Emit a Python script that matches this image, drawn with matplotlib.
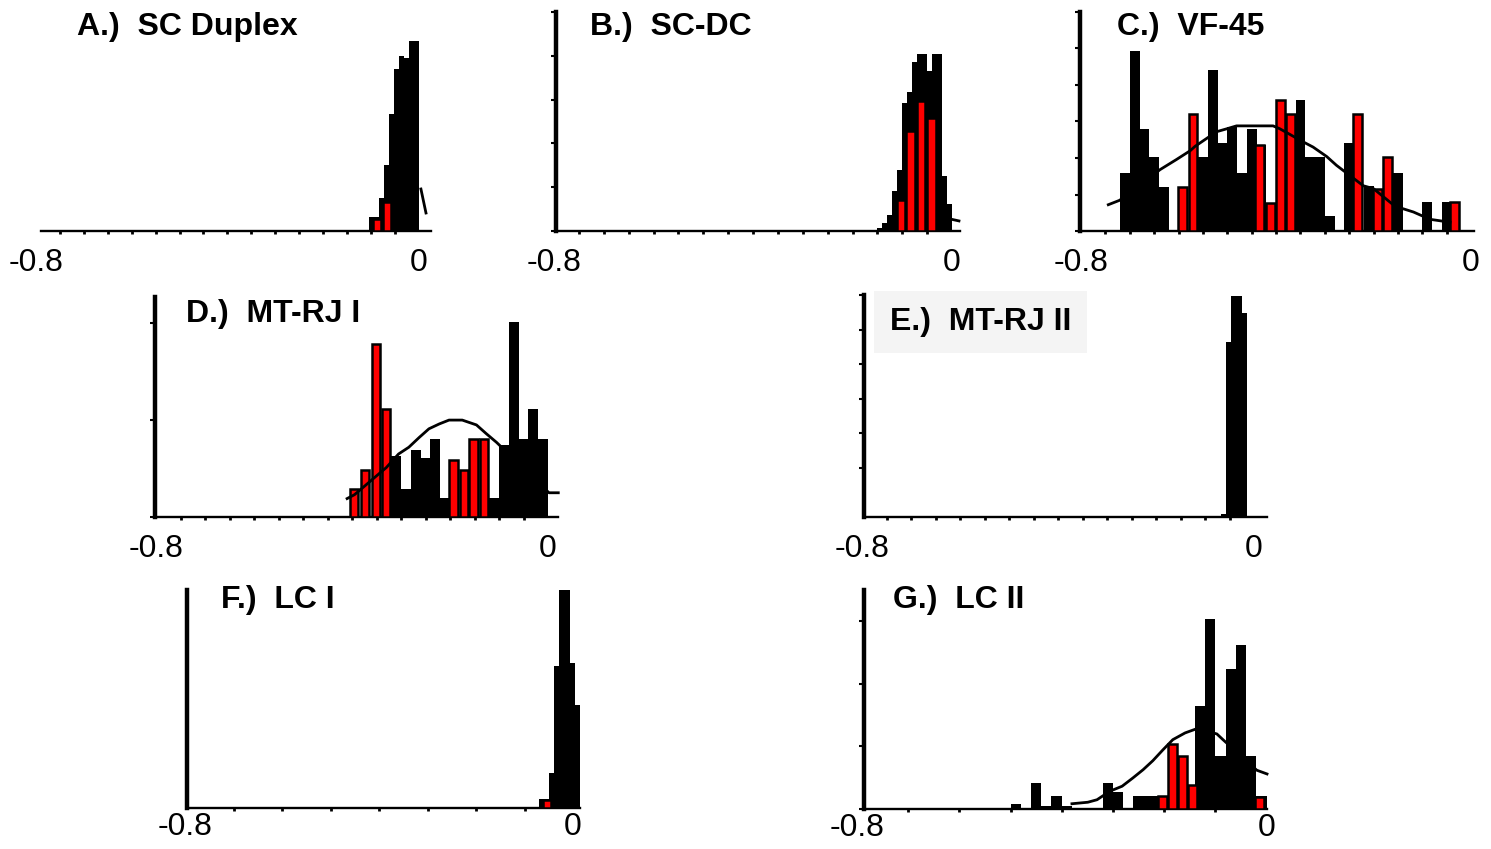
import matplotlib
matplotlib.use('Agg')
import matplotlib.pyplot as plt
import numpy as np

plt.rcParams['font.family'] = ['Liberation Sans', 'DejaVu Sans']

W, H = 1491, 849

# ---- data ----
# A.) SC Duplex
a_edge0, a_width = -0.105, 0.0105
a_black = [1.4, 1.4, 3.3, 6.6, 11.7, 16.2, 17.5, 17.3, 19.0, 19.0]
a_red_x = [-0.087, -0.066]
a_red = [1.2, 2.9]
a_curve_x = [0.004, 0.0146]
a_curve_y = [4.2, 1.8]

# B.) SC-DC
b_edge0, b_width = -0.15, 0.01
b_black = [0.7, 1.8, 3.7, 9.1, 13.9, 29.2, 31.7, 38.6, 40.4, 40.4, 36.5, 40.4, 40.4, 12.6, 6.2]
b_red_x = [-0.103, -0.083, -0.062, -0.041]
b_red = [7.1, 22.8, 29.7, 25.8]
b_curve_x = [0.002, 0.014]
b_curve_y = [2.6, 2.3]

# C.) VF-45
c_edge0, c_width = -0.8, 0.02
c_black = [0, 0, 0, 0, 4.0, 12.3, 7.0, 5.1, 3.0, 0,
           0, 0, 5.1, 11.0, 6.0, 7.1, 4.0, 7.0, 5.9, 0,
           0, 0, 9.0, 5.1, 5.1, 1.0, 0, 6.0, 0, 3.1,
           0, 0, 4.0, 0, 0, 2.0, 0, 2.0, 0, 0]
c_red_x = [-0.592, -0.570, -0.434, -0.411, -0.391, -0.370, -0.233, -0.192, -0.171, -0.034]
c_red = [3.0, 8.0, 5.9, 1.9, 9.0, 8.0, 8.0, 2.9, 5.1, 2.0]
c_curve_x = [-0.744, -0.721, -0.679, -0.638, -0.604, -0.576, -0.566, -0.522, -0.501,
             -0.481, -0.443, -0.406, -0.392, -0.344, -0.324, -0.296, -0.276, -0.221,
             -0.200, -0.156, -0.118, -0.084, -0.043]
c_curve_y = [1.8, 2.1, 3.1, 4.2, 4.9, 5.5, 5.8, 6.8, 7.0,
             7.2, 7.2, 7.2, 7.0, 6.1, 5.75, 5.1, 4.5, 3.1,
             2.9, 1.7, 1.3, 0.8, 0.6]

# D.) MT-RJ I
d_edge0, d_width = -0.42, 0.02
d_black = [0, 0, 0, 0, 0, 6.3, 2.9, 6.9, 6.1, 8.0, 2.0,
           0, 0, 0, 0, 2.0, 7.4, 20.1, 8.0, 11.1, 8.0]
d_red_x = [-0.396, -0.374, -0.351, -0.330, -0.193, -0.172, -0.152, -0.131]
d_red = [2.9, 4.8, 17.9, 11.1, 5.9, 4.8, 8.0, 8.0]
d_curve_x = [-0.41, -0.395, -0.374, -0.351, -0.330, -0.305, -0.284, -0.263, -0.243,
             -0.222, -0.202, -0.175, -0.146, -0.126, -0.105, 0.002, 0.021]
d_curve_y = [1.9, 2.3, 3.2, 4.2, 5.1, 6.5, 7.2, 8.2, 9.1,
             9.6, 10.0, 10.0, 9.5, 8.6, 7.7, 2.5, 2.5]

# E.) MT-RJ II
e_edge0, e_width = -0.067, 0.0105
e_black = [0.15, 10.1, 12.8, 12.8, 11.8]

# F.) LC I
f_edge0, f_width = -0.07, 0.0105
f_black = [0.9, 0.9, 3.5, 14.2, 21.9, 21.9, 14.5, 10.3]
f_red_x = [-0.054]
f_red = [0.8]

# G.) LC II
g_edge0, g_width = -0.50, 0.02
g_black = [0.42, 0, 2.1, 0.26, 1.06, 0.26, 0, 0, 0, 2.1, 1.33, 0, 1.06,
           1.06, 1.06, 0, 0, 0, 8.2, 15.2, 4.2, 11.2, 13.1, 4.2, 1.06]
g_red_x = [-0.203, -0.184, -0.164, -0.1445, -0.013]
g_red = [1.0, 5.2, 4.2, 1.9, 0.95]
g_curve_x = [-0.380, -0.349, -0.331, -0.306, -0.282, -0.261, -0.241, -0.222, -0.202,
             -0.183, -0.159, -0.136, -0.097, -0.085, -0.019, 0.001]
g_curve_y = [0.42, 0.54, 0.74, 1.42, 1.82, 2.48, 3.14, 3.86, 4.74,
             5.54, 6.08, 6.42, 6.0, 5.54, 3.1, 2.8]

fig = plt.figure(figsize=(W / 100, H / 100), dpi=100)


def draw_panel(layout, ytop, yticks, tick_step, edge0, width, black,
               red_x=None, red_h=None, curve_x=None, curve_y=None,
               show_left=True, pad=12):
    # layout in pixels: zero position, px per unit, baseline, top, axis left/right
    zero, ppu, base, top, xl, xr = layout
    lpx, rpx = xl - 60, xr + 30
    ax = fig.add_axes([lpx / W, 1 - base / H, (rpx - lpx) / W, (base - top) / H])
    ax.patch.set_visible(False)
    ax.set_xlim((lpx - zero) / ppu, (rpx - zero) / ppu)
    ax.set_ylim(0, ytop)

    centers = edge0 + width * (np.arange(len(black)) + 0.5)
    ax.bar(centers, black, width=width, color='black', linewidth=0, zorder=2)
    if red_x:
        ax.bar(red_x, red_h, width=0.017, color='#ff0000', edgecolor='black',
               linewidth=1.8, zorder=3)
    if curve_x:
        ax.plot(curve_x, curve_y, color='black', lw=2.0, zorder=4)

    for s in ['top', 'right']:
        ax.spines[s].set_visible(False)
    ax.spines['bottom'].set_bounds((xl - zero) / ppu, (xr - zero) / ppu)
    ax.spines['bottom'].set_linewidth(1.7)
    ax.spines['left'].set_position(('data', (xl - zero) / ppu))
    ax.spines['left'].set_bounds(0, ytop)
    ax.spines['left'].set_linewidth(3.2)
    ax.spines['left'].set_visible(show_left)

    ax.set_xticks([-0.8, 0])
    ax.set_xticklabels(['-0.8', '0'])
    minor = np.arange(-1 + tick_step, 0.001, tick_step).round(3)
    ax.set_xticks(minor[minor >= -0.751], minor=True)
    ax.tick_params(axis='x', which='major', length=0, pad=pad, labelsize=23)
    ax.tick_params(axis='x', which='minor', direction='out', length=2, width=2)
    ax.set_yticks(yticks)
    ax.set_yticklabels([])
    ax.tick_params(axis='y', which='both', direction='out', length=3.8, width=1.5)
    ax.yaxis.set_minor_locator(plt.NullLocator())
    return ax


draw_panel((419, 479, 231, 12, 41, 431), 21.9, [], 0.05,
           a_edge0, a_width, a_black, a_red_x, a_red, a_curve_x, a_curve_y, show_left=False)
draw_panel((952, 497.5, 231, 12, 556, 960), 50, [0, 10, 20, 30, 40, 50], 0.05,
           b_edge0, b_width, b_black, b_red_x, b_red, b_curve_x, b_curve_y)
draw_panel((1471, 487.5, 231, 12, 1080, 1474), 15, [0, 2.5, 5, 7.5, 10, 12.5, 15], 0.05,
           c_edge0, c_width, c_black, c_red_x, c_red, c_curve_x, c_curve_y)
draw_panel((548, 490, 517, 297, 155, 558), 22.7, [0, 10, 20], 0.05,
           d_edge0, d_width, d_black, d_red_x, d_red, d_curve_x, d_curve_y)
draw_panel((1254, 490, 517, 295, 864, 1267), 12.83, [2.83, 4.83, 6.83, 8.83, 10.83, 12.83], 0.05,
           e_edge0, e_width, e_black)
draw_panel((573, 485, 808, 590, 187, 580), 21.8, [], 0.1,
           f_edge0, f_width, f_black, f_red_x, f_red, pad=3)
draw_panel((1266.5, 512, 809, 590, 864, 1267), 17.5, [0, 5, 10, 15], 0.1,
           g_edge0, g_width, g_black, g_red_x, g_red, g_curve_x, g_curve_y, pad=3)

titles = [(77, 35, 'A.)  SC Duplex'), (590, 35, 'B.)  SC-DC'), (1117, 35, 'C.)  VF-45'),
          (186, 322, 'D.)  MT-RJ I'), (221, 608, 'F.)  LC I'), (893, 608, 'G.)  LC II')]
for x, y, t in titles:
    fig.text(x / W, 1 - y / H, t, fontsize=23, fontweight='bold', ha='left', va='baseline')
fig.text(890 / W, 1 - 330 / H, 'E.)  MT-RJ II', fontsize=23, fontweight='bold',
         ha='left', va='baseline',
         bbox=dict(facecolor='#f4f4f4', edgecolor='none', boxstyle='square,pad=0.5'))

fig.savefig('out.png', dpi=100)
